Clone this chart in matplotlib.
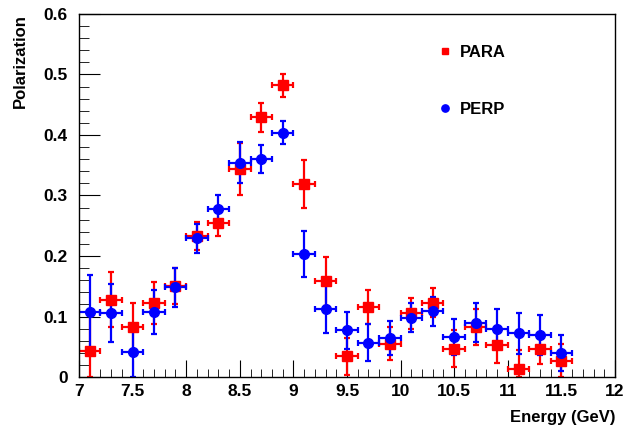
import numpy as np
import matplotlib
matplotlib.use("Agg")
import matplotlib.pyplot as plt
from matplotlib.ticker import MultipleLocator

plt.rcParams["font.family"] = ["Liberation Sans", "DejaVu Sans"]
plt.rcParams["font.weight"] = "bold"

energy = [7.1, 7.3, 7.5, 7.7, 7.9, 8.1, 8.3, 8.5, 8.7, 8.9, 9.1, 9.3,
          9.5, 9.7, 9.9, 10.1, 10.3, 10.5, 10.7, 10.9, 11.1, 11.3, 11.5]
bin_half = 0.1

para = [0.043, 0.128, 0.082, 0.122, 0.150, 0.233, 0.255, 0.344, 0.429, 0.482,
        0.319, 0.158, 0.034, 0.115, 0.055, 0.105, 0.123, 0.047, 0.083, 0.053,
        0.014, 0.046, 0.027]
para_err = [0.06, 0.046, 0.040, 0.035, 0.030, 0.023, 0.022, 0.043, 0.024, 0.019,
            0.040, 0.040, 0.030, 0.028, 0.027, 0.025, 0.024, 0.030, 0.030, 0.030,
            0.030, 0.025, 0.028]

perp = [0.108, 0.106, 0.042, 0.107, 0.148, 0.229, 0.278, 0.354, 0.361, 0.404,
        0.204, 0.112, 0.077, 0.057, 0.064, 0.098, 0.109, 0.066, 0.090, 0.079,
        0.072, 0.069, 0.040]
perp_err = [0.060, 0.048, 0.042, 0.036, 0.032, 0.024, 0.022, 0.034, 0.023, 0.019,
            0.038, 0.040, 0.030, 0.030, 0.028, 0.024, 0.024, 0.030, 0.032, 0.033,
            0.034, 0.033, 0.030]

fig = plt.figure(figsize=(6.4, 4.33), dpi=100)
ax = fig.add_axes([0.1234, 0.1293, 0.8376, 0.8384])

def draw(y, err, color, marker, ms, label):
    y = np.array(y)
    err = np.array(err)
    lo = np.minimum(err, y)  # clip error bars at zero like ROOT frame
    ax.errorbar(energy, y, xerr=bin_half, yerr=[lo, err], fmt=marker, color=color,
                ms=ms, elinewidth=1.6, capsize=2, capthick=1.6, label=label)

draw(para, para_err, "#ff0000", "s", 6.5, "PARA")
draw(perp, perp_err, "#0000ff", "o", 7, "PERP")

ax.set_xlim(7, 12)
ax.set_ylim(0, 0.6)
ax.xaxis.set_major_locator(MultipleLocator(0.5))
ax.xaxis.set_minor_locator(MultipleLocator(0.1))
ax.yaxis.set_major_locator(MultipleLocator(0.1))
ax.yaxis.set_minor_locator(MultipleLocator(0.02))
ax.tick_params(which="both", direction="in", top=False, right=False,
               labelsize=12.5)
ax.tick_params(axis="x", which="major", length=12, pad=5)
ax.tick_params(axis="x", which="minor", length=6)
ax.tick_params(axis="y", which="major", length=15, pad=8)
ax.tick_params(axis="y", which="minor", length=7)
ax.xaxis.set_major_formatter(plt.FuncFormatter(lambda v, p: f"{v:g}"))
ax.yaxis.set_major_formatter(plt.FuncFormatter(lambda v, p: f"{v:g}"))
for lab in ax.get_xticklabels() + ax.get_yticklabels():
    lab.set_fontweight("bold")
for s in ax.spines.values():
    s.set_linewidth(1.0)

ax.set_xlabel("Energy (GeV)", fontsize=12, fontweight="bold", loc="right", labelpad=8)
ax.set_ylabel("Polarization", fontsize=12, fontweight="bold", loc="top", labelpad=11)

handles, labels = ax.get_legend_handles_labels()
handles = [h[0] for h in handles]
leg = ax.legend(handles, labels, loc="upper left", bbox_to_anchor=(0.645, 0.955),
                frameon=False, fontsize=12, labelspacing=2.5, handlelength=0.6,
                handletextpad=0.6, markerscale=0.75)
for t in leg.get_texts():
    t.set_fontweight("bold")

fig.savefig("out.png", dpi=100)
